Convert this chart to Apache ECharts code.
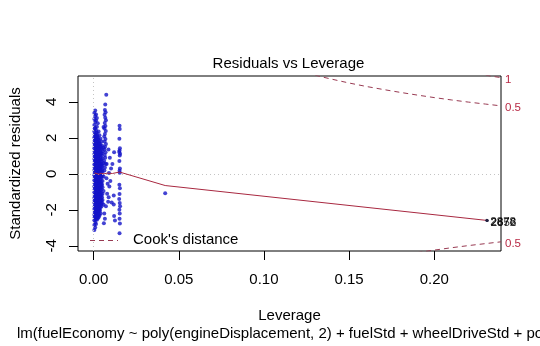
<!DOCTYPE html>
<html><head><meta charset="utf-8">
<script src="https://cdn.jsdelivr.net/npm/echarts@6/dist/echarts.min.js"></script>
<style>html,body{margin:0;padding:0;background:#fff}#c{width:540px;height:346px}</style>
</head><body><div id="c"></div>
<script>
const FONT = '"Liberation Sans", Arial, sans-serif';
const xTicks = [0, 0.05, 0.10, 0.15, 0.20];
const yTicks = [-4, -2, 0, 2, 4];

// dense core of observations: [leverage, [standardized residuals...]]
const coreColumns = [
  [0.0004, [3.38, 3.05, 2.71, 2.35, 2.02, 1.71, 1.42, 1.1, 0.83, 0.52, 0.21, -0.08, -0.36, -0.7, -1.02, -1.33, -1.61, -1.95, -2.27, -2.58, -2.85, -3.12]],
  [0.0009, [3.52, 3.21, 2.88, 2.55, 2.18, 1.93, 1.62, 1.31, 1.02, 0.74, 0.44, 0.15, -0.18, -0.47, -0.79, -1.14, -1.44, -1.75, -2.06, -2.39, -2.7, -2.98]],
  [0.0014, [3.3, 2.96, 2.44, 2.11, 1.85, 1.5, 1.22, 0.93, 0.61, 0.33, 0.02, -0.27, -0.58, -0.9, -1.21, -1.52, -1.86, -2.15, -2.46, -2.79]],
  [0.0019, [3.1, 2.62, 2.27, 1.98, 1.68, 1.37, 1.06, 0.79, 0.47, 0.18, -0.13, -0.41, -0.72, -1.05, -1.36, -1.67, -1.98, -2.3, -2.55]],
  [0.0024, [2.81, 2.05, 1.77, 1.46, 1.15, 0.87, 0.56, 0.26, -0.04, -0.34, -0.64, -0.96, -1.27, -1.58, -1.9, -2.21, -2.48]],
  [0.0029, [2.36, 1.9, 1.58, 1.26, 0.97, 0.66, 0.38, 0.08, -0.23, -0.52, -0.85, -1.16, -1.47, -1.79, -2.1, -2.42]],
  [0.0034, [2.15, 1.72, 1.4, 1.08, 0.77, 0.49, 0.19, -0.11, -0.43, -0.74, -1.03, -1.35, -1.66, -2.0, -2.32]],
  [0.0040, [1.95, 1.55, 1.2, 0.9, 0.58, 0.3, -0.02, -0.3, -0.62, -0.93, -1.25, -1.57, -1.88, -2.2]],
  [0.0046, [1.8, 1.38, 1.0, 0.7, 0.38, 0.1, -0.22, -0.55, -0.86, -1.18, -1.5, -1.8]],
  [0.0052, [1.25, 0.85, 0.45, 0.12, -0.4, -0.75, -1.1, -1.45]],
  [0.0058, [1.45, 0.6, -0.15, -0.95, -1.7]]
];
const coreColumnsFill = [
  [0.0006, [2.52, 2.19, 1.86, 1.55, 1.26, 0.96, 0.67, 0.36, 0.05, -0.22, -0.53, -0.86, -1.18, -1.47, -1.8, -2.12, -2.42]],
  [0.0011, [2.04, 1.77, 1.46, 1.16, 0.88, 0.58, 0.29, -0.03, -0.32, -0.63, -0.95, -1.29, -1.6, -1.91, -2.22, -2.52]],
  [0.0016, [2.3, 1.96, 1.64, 1.36, 1.07, 0.76, 0.47, 0.16, -0.14, -0.44, -0.75, -1.06, -1.38, -1.69, -2.01, -2.33]],
  [0.0021, [2.12, 1.83, 1.52, 1.22, 0.92, 0.62, 0.33, 0.03, -0.27, -0.57, -0.88, -1.2, -1.51, -1.83, -2.14, -2.42]],
  [0.0026, [1.92, 1.62, 1.31, 1.01, 0.72, 0.41, 0.12, -0.18, -0.49, -0.8, -1.11, -1.42, -1.74, -2.05, -2.35]],
  [0.0031, [1.74, 1.43, 1.14, 0.83, 0.53, 0.24, -0.07, -0.37, -0.68, -1.0, -1.3, -1.62, -1.94, -2.25]],
  [0.0037, [1.66, 1.34, 1.03, 0.72, 0.42, 0.13, -0.17, -0.48, -0.8, -1.12, -1.43, -1.75, -2.05]],
  [0.0043, [1.48, 1.12, 0.8, 0.5, 0.2, -0.12, -0.42, -0.72, -1.05, -1.36, -1.66]],
  [0.0049, [1.58, 1.15, 0.55, 0.25, -0.1, -0.6, -1.3, -1.62]]
];
const upperColumn = [
  [0.0074, 4.4], [0.0068, 3.85], [0.0066, 3.55], [0.0070, 3.42], [0.0064, 3.28], [0.0068, 3.12],
  [0.0072, 2.98], [0.0065, 2.82], [0.0069, 2.66], [0.0063, 2.52], [0.0071, 2.38], [0.0066, 2.22],
  [0.0062, 2.08], [0.0069, 1.94], [0.0064, 1.8], [0.0072, 1.66], [0.0067, 1.5], [0.0063, 1.36],
  [0.0070, 1.2], [0.0065, 1.05], [0.0068, 0.9], [0.0062, 0.72], [0.0071, 0.55], [0.0066, 0.35], [0.0063, 0.18]
];
const midPoints = [
  [0.0075, -0.25], [0.0082, -0.55], [0.0092, -0.7], [0.0079, -1.1], [0.0088, -1.3], [0.0085, -1.55],
  [0.0072, -1.8], [0.0098, -0.4], [0.0102, 0.3], [0.0118, -1.2], [0.0120, 1.2], [0.0118, -1.7],
  [0.0120, -2.35], [0.0125, -2.6], [0.0062, -2.2], [0.0066, -2.5], [0.0060, -2.75], [0.0058, 2.6],
  [0.0106, -1.6], [0.0090, 0.05], [0.0076, 0.55], [0.0095, 0.9], [0.0087, 1.35], [0.0110, 0.55]
];
const farColumn = [
  [0.0152, 2.68], [0.0153, 2.5], [0.0151, 1.95], [0.0154, 1.42], [0.0152, 1.3], [0.0150, 1.22],
  [0.0155, 1.12], [0.0153, 1.02], [0.0151, 0.72], [0.0154, 0.3], [0.0152, 0.17], [0.0153, 0.06],
  [0.0151, -0.6], [0.0154, -0.8], [0.0152, -1.12], [0.0150, -1.4], [0.0153, -1.62], [0.0155, -1.8],
  [0.0151, -2.0], [0.0153, -2.2], [0.0152, -2.5], [0.0154, -2.76], [0.0152, -3.3]
];
const isolatedPoints = [[0.042, -1.08]];
const highLeverage = [[0.2310, -2.59, '2672'], [0.2311, -2.60, '2856'], [0.2309, -2.58, '2878']];
const smoothLine = [[0.0004, 0.05], [0.0015, 0.02], [0.003, -0.02], [0.0045, 0.03], [0.006, 0.0],
  [0.008, 0.04], [0.011, 0.02], [0.0152, 0.1], [0.042, -0.65], [0.231, -2.59]];
const cook05Upper = [[0.130, 5.49], [0.135, 5.37], [0.14, 5.26], [0.15, 5.05], [0.16, 4.86], [0.17, 4.69],
  [0.18, 4.53], [0.19, 4.38], [0.20, 4.24], [0.21, 4.11], [0.22, 3.99], [0.23, 3.88], [0.2392, 3.78]];
const cook05Lower = [[0.19, -4.38], [0.20, -4.24], [0.21, -4.11], [0.22, -3.99], [0.23, -3.88], [0.2392, -3.78]];
const cook1Upper = [[0.225, 5.57], [0.23, 5.49], [0.235, 5.41], [0.2392, 5.35]];

const pts = [];
coreColumns.concat(coreColumnsFill).forEach(([h, rs]) => rs.forEach(r => pts.push([h, r])));
upperColumn.concat(midPoints, farColumn, isolatedPoints).forEach(p => pts.push(p));

const RED_LINE = '#a82840', RED_DASH = '#983a52', RED_TEXT = '#b82a45', BLUE = '#1414c8';
const chart = echarts.init(document.getElementById('c'), null, {renderer: 'canvas'});
const dashLine = (data, label) => ({
  type: 'line', data, symbol: 'none', silent: true, clip: true, z: 4,
  lineStyle: {color: RED_DASH, width: 1, type: [5, 4]},
  endLabel: {show: true, formatter: label, color: RED_TEXT, fontSize: 11.5, fontFamily: FONT, distance: 4, offset: [0, 2]}
});
chart.setOption({
  animation: false,
  grid: {left: 76, right: 39, top: 76, bottom: 95, show: true, borderColor: '#000', borderWidth: 1, backgroundColor: 'transparent'},
  xAxis: {
    type: 'value', min: -0.0092, max: 0.2392,
    name: 'Leverage', nameLocation: 'middle', nameGap: 57,
    nameTextStyle: {color: '#000', fontSize: 15, fontFamily: FONT},
    axisLine: {show: false, onZero: false},
    axisTick: {show: true, length: 9, customValues: xTicks, lineStyle: {color: '#000'}},
    axisLabel: {customValues: xTicks, formatter: v => v.toFixed(2), color: '#000', fontSize: 15, fontFamily: FONT, margin: 21},
    splitLine: {show: false}
  },
  yAxis: {
    type: 'value', min: -4.29, max: 5.44,
    name: 'Standardized residuals', nameLocation: 'middle', nameGap: 55,
    nameTextStyle: {color: '#000', fontSize: 15, fontFamily: FONT},
    axisLine: {show: false, onZero: false},
    axisTick: {show: true, length: 9, customValues: yTicks, lineStyle: {color: '#000'}},
    axisLabel: {customValues: yTicks, rotate: 90, color: '#000', fontSize: 15, fontFamily: FONT, margin: 19},
    splitLine: {show: false}
  },
  graphic: [
    {type: 'text', x: 288.5, y: 64, style: {text: 'Residuals vs Leverage', fill: '#000', font: '15px ' + FONT, textAlign: 'center', textVerticalAlign: 'middle'}},
    {type: 'text', x: 17, y: 333.5, style: {text: 'lm(fuelEconomy ~ poly(engineDisplacement, 2) + fuelStd + wheelDriveStd + powerStd)', fill: '#000', font: '15px ' + FONT, textAlign: 'left', textVerticalAlign: 'middle'}},
    {type: 'line', shape: {x1: 90, y1: 240.5, x2: 118, y2: 240.5}, style: {stroke: RED_DASH, lineWidth: 1, lineDash: [5, 4]}},
    {type: 'text', x: 133, y: 240, style: {text: "Cook's distance", fill: '#000', font: '15px ' + FONT, textAlign: 'left', textVerticalAlign: 'middle'}}
  ],
  series: [
    {
      type: 'scatter', data: pts, symbol: 'circle', symbolSize: 4, itemStyle: {color: BLUE}, z: 2, silent: true,
      markLine: {
        silent: true, symbol: 'none', label: {show: false},
        lineStyle: {color: '#c4c4c4', width: 1, type: [1, 3]},
        data: [{xAxis: 0}, {yAxis: 0}]
      }
    },
    {
      type: 'scatter', data: highLeverage.map(d => ({value: [d[0], d[1]], name: d[2]})), symbol: 'circle', symbolSize: 3,
      itemStyle: {color: '#202040'}, z: 6, silent: true,
      label: {show: true, position: 'right', distance: 2, offset: [0, 2], formatter: p => p.name, color: '#000', fontSize: 11.5, fontFamily: FONT}
    },
    {type: 'line', data: smoothLine, symbol: 'none', silent: true, z: 5, lineStyle: {color: RED_LINE, width: 1}},
    dashLine(cook05Upper, '0.5'),
    dashLine(cook05Lower, '0.5'),
    dashLine(cook1Upper, '1')
  ]
});
</script></body></html>
